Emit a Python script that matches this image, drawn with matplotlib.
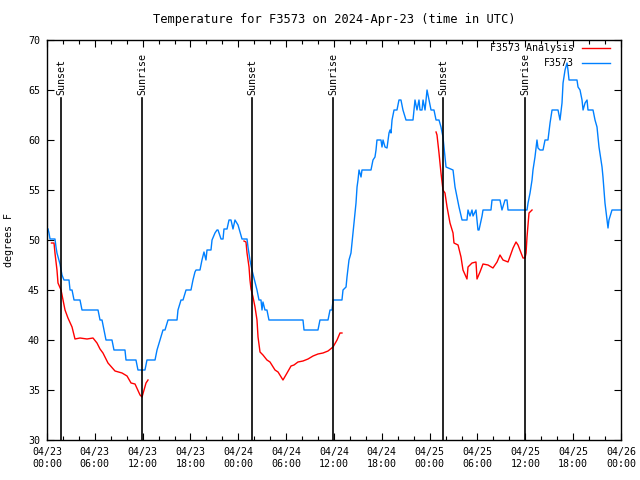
import numpy as np
import pandas as pd
import matplotlib
matplotlib.use("Agg")
import matplotlib.pyplot as plt
import matplotlib.dates as mdates
from matplotlib.lines import Line2D

# hours after 2024-04-23 00:00 UTC, temperature in F
obs_hours = [0.13, 0.25, 0.38, 1.0, 1.13, 1.25, 1.5, 1.63, 1.76, 1.88, 2.13, 2.76, 2.89, 3.14, 3.39,
             4.14, 4.39, 6.4, 6.65, 6.9, 7.15, 7.4, 8.15, 8.4, 9.78, 9.91, 11.16, 11.41, 12.29, 12.54,
             13.55, 13.8, 14.17, 14.55, 14.8, 15.18, 16.31, 16.43, 16.81, 17.06, 17.44, 18.06, 18.31,
             18.56, 18.69, 19.19, 19.44, 19.69, 19.94, 20.07, 20.57, 20.7, 21.07, 21.32, 21.45, 21.83,
             22.08, 22.2, 22.58, 22.83, 23.08, 23.33, 23.58, 23.96, 24.46, 25.09, 25.21, 25.46, 25.71,
             26.09, 26.34, 26.59, 26.84, 26.97, 27.09, 27.34, 27.59, 27.84, 32.11, 32.24, 33.99, 34.24,
             35.25, 35.5, 35.75, 35.88, 37.0, 37.13, 37.51, 37.63, 37.88, 38.13, 38.38, 38.51, 38.76,
             38.89, 39.01, 39.14, 39.39, 39.51, 40.64, 40.89, 41.14, 41.27, 41.39, 41.89, 42.02, 42.15,
             42.4, 42.65, 42.9, 43.03, 43.15, 43.28, 43.53, 43.9, 44.15, 44.4, 44.65, 45.03, 45.91,
             46.16, 46.41, 46.66, 46.79, 47.04, 47.17, 47.42, 47.67, 47.92, 48.17, 48.54, 48.8, 49.17,
             49.42, 49.67, 49.8, 50.05, 50.93, 51.18, 51.43, 51.68, 52.06, 52.68, 52.81, 53.06, 53.31,
             53.44, 53.81, 53.94, 54.06, 54.19, 54.57, 54.69, 55.69, 55.82, 56.82, 57.07, 57.45, 57.7,
             57.83, 60.21, 60.34, 60.59, 60.84, 60.96, 61.21, 61.46, 61.59, 61.84, 62.22, 62.47, 62.84,
             63.1, 63.35, 64.1, 64.35, 64.6, 64.73, 64.98, 65.23, 65.35, 65.48, 66.48, 66.61, 66.86,
             67.11, 67.24, 67.49, 67.74, 67.86, 68.49, 68.74, 68.99, 69.24, 69.62, 69.74, 69.99, 70.24,
             70.37, 70.49, 70.87, 72.0]
obs_temp = [51.1, 50.7, 50.1, 50.1, 49.3, 48.7, 48, 47.6, 47, 46.5, 46, 46, 45, 45, 44,
            44, 43, 43, 42, 42, 41, 40, 40, 39, 39, 38, 38, 37, 37, 38,
            38, 39, 40, 41, 41, 42, 42, 43, 44, 44, 45, 45, 46,
            46.8, 47, 47, 48, 48.8, 48, 49, 49, 50, 50.7, 51, 51, 50.1,
            50.1, 51.1, 51.1, 52, 52, 51.1, 52, 51.5, 50.1, 50.1, 49.3, 48, 47,
            45.8, 45, 44, 44, 43, 43.8, 43, 43, 42, 42, 41, 41, 42,
            42, 43, 43, 44, 44, 45, 45.3, 46.3, 48, 48.7, 50.7, 51.7, 53.7,
            55.3, 56, 57, 56.3, 57, 57, 58, 58.3, 59, 60, 60, 59.3, 60,
            59.3, 59.2, 60.7, 61, 60.7, 62, 63, 63, 64, 64, 63, 62, 62,
            64, 63, 64, 63, 63, 64, 63, 65, 64, 63, 63, 62, 62,
            61.3, 60.3, 59.3, 57.3, 57, 55.3, 54.3, 53.3, 52, 52, 53, 52.4, 53,
            52.4, 53, 52, 51, 51, 52.4, 53, 53, 54, 54, 53, 54, 54,
            53, 53, 53.7, 54.7, 56, 57, 58.3, 60, 59.2, 59, 59, 60, 60,
            61.7, 63, 63, 62, 63.7, 65.7, 67, 67.7, 67, 66, 66, 65.3, 65,
            64, 63, 63.7, 64, 63, 63, 62, 61.3, 59.3, 57.3, 56.3, 53.7, 52,
            51.2, 52, 53, 53]

# analysis series, three separate runs
ana_hours = [
    [0.56, 0.88, 1.0, 1.25, 1.38, 1.76, 2.01, 2.26, 2.63, 3.14, 3.51, 4.14, 5.02, 5.77, 6.27,
     6.65, 7.02, 7.65, 8.53, 9.41, 10.04, 10.54, 11.04, 11.67, 11.92, 12.17, 12.42, 12.67],
    [24.71, 24.96, 25.09, 25.34, 25.46, 25.59, 25.84, 26.09, 26.34, 26.47, 26.72, 27.09, 27.59,
     27.97, 28.6, 28.98, 29.6, 30.11, 30.61, 30.98, 31.48, 32.11, 32.74, 33.37, 33.99, 34.62,
     35.25, 35.88, 36.38, 36.75, 37.0],
    [48.8, 48.92, 49.17, 49.42, 49.67, 49.92, 50.18, 50.55, 50.93, 51.05, 51.56, 51.93, 52.18,
     52.68, 52.81, 53.31, 53.81, 53.94, 54.31, 54.69, 55.32, 55.94, 56.45, 56.82, 57.2, 57.83,
     58.46, 58.83, 59.08, 59.71, 59.96, 60.09, 60.21, 60.46, 60.84],
]
ana_temp = [
    [49.7, 49.7, 48.7, 47, 45.7, 45, 44, 43, 42.2, 41.3, 40.1, 40.2, 40.1, 40.2, 39.7,
     39.1, 38.7, 37.7, 36.9, 36.7, 36.4, 35.7, 35.6, 34.5, 34.3, 35, 35.7, 36],
    [49.9, 49.8, 48.7, 47.3, 46, 45.1, 44.3, 43.3, 42, 40.3, 38.8, 38.5, 38,
     37.8, 37, 36.8, 36, 36.7, 37.4, 37.5, 37.8, 37.9, 38.1, 38.4, 38.6, 38.7,
     38.9, 39.3, 40, 40.7, 40.7],
    [60.8, 60.5, 58.7, 56.7, 55, 54.7, 53.3, 51.7, 50.7, 49.7, 49.5, 48.3, 47,
     46.1, 47.3, 47.7, 47.8, 46.1, 46.8, 47.6, 47.5, 47.2, 47.8, 48.5, 48, 47.8,
     49.2, 49.8, 49.5, 48.2, 48.2, 48.7, 50.3, 52.7, 53],
]

sun_times = ["2024-04-23 01:46", "2024-04-23 11:55", "2024-04-24 01:43",
             "2024-04-24 11:53", "2024-04-25 01:41", "2024-04-25 11:57"]
sun_labels = ["Sunset", "Sunrise", "Sunset", "Sunrise", "Sunset", "Sunrise"]

start = pd.Timestamp("2024-04-23 00:00")
def to_time(h):
    return start + pd.to_timedelta(np.array(h), unit="h")

plt.rcParams['font.family'] = ['DejaVu Sans Mono']
plt.rcParams['font.size'] = 7.2

fig = plt.figure(figsize=(6.4, 4.8), dpi=100)
ax = fig.add_axes([47/640, 40/480, 574/640, 400/480])

red = '#ff0000'
blue = '#0080ff'

for h, t in zip(ana_hours, ana_temp):
    ax.plot(to_time(h), t, color=red, lw=1.0)
ax.plot(to_time(obs_hours), obs_temp, color=blue, lw=1.0)

for st, lab in zip(sun_times, sun_labels):
    ts = pd.Timestamp(st)
    ax.axvline(ts, ymin=0, ymax=0.855, color='black', lw=1.2)
    ax.text(ts, 0.862, lab, transform=ax.get_xaxis_transform(), rotation=90,
            ha='center', va='bottom')

ax.set_xlim(start, start + pd.Timedelta(hours=72))
ax.set_ylim(30, 70)
ax.set_yticks(np.arange(30, 71, 5))
ax.xaxis.set_major_locator(mdates.HourLocator(byhour=[0, 6, 12, 18]))
ax.xaxis.set_minor_locator(mdates.HourLocator(interval=2))
ax.xaxis.set_major_formatter(mdates.DateFormatter('%m/%d\n%H:%M'))
ax.tick_params(which='both', direction='in', top=True, right=True, color='black')
ax.tick_params(which='major', length=5, width=0.8, pad=5)
ax.tick_params(which='minor', length=3, width=0.8)
for s in ax.spines.values():
    s.set_linewidth(1.0)

ax.set_title('Temperature for F3573 on 2024-Apr-23 (time in UTC)', pad=12)
ax.set_ylabel('degrees F')
ax.yaxis.set_label_coords(-0.0575, 0.5)

# legend (gnuplot style, right-aligned, no frame)
for yy, lab, col in [(0.98, 'F3573 Analysis', red), (0.9425, 'F3573', blue)]:
    ax.text(0.918, yy, lab, transform=ax.transAxes, ha='right', va='center')
    ax.add_line(Line2D([0.932, 0.981], [yy, yy], transform=ax.transAxes, color=col, lw=1.0))

fig.savefig('out.png', dpi=100)
